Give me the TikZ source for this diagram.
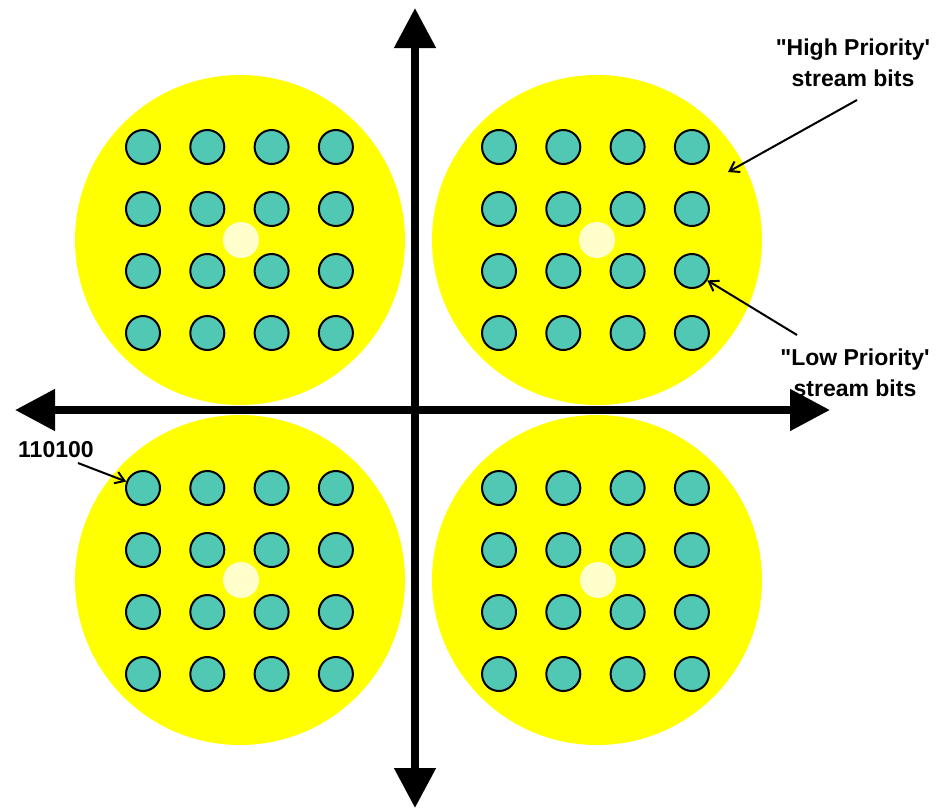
\documentclass[tikz,border=0pt]{standalone}
\usepackage{fontspec}
\setmainfont{Liberation Sans}[Ligatures=TeXOff]
\usetikzlibrary{arrows.meta}
\definecolor{discyellow}{RGB}{255,255,0}
\definecolor{dotteal}{RGB}{80,200,180}
\definecolor{paledot}{RGB}{255,255,204}
\begin{document}
\begin{tikzpicture}[x=1pt, y=-1pt,
                    disc/.style={circle, fill=discyellow, inner sep=0pt, minimum size=330pt},
                    dot/.style={circle, draw=black, line width=2pt, fill=dotteal, inner sep=0pt, minimum size=34pt},
                    centre/.style={circle, fill=paledot, inner sep=0pt, minimum size=36pt},
                    label_style/.style={font=\bfseries\fontsize{23}{31}\selectfont, align=center, inner sep=0pt},
                    axis_style/.style={draw=black, line width=8pt, {Triangle[width=40pt,length=40pt]}-{Triangle[width=40pt,length=40pt]}},
                    pointer/.style={draw=black, line width=2pt, -{Straight Barb[length=9pt,width=12pt]}}]
                    \useasboundingbox (0,0) rectangle (939,811);
                    % four yellow discs
                    \node[disc] (q1) at (597, 240) {};
                    \node[disc] (q2) at (240, 240) {};
                    \node[disc] (q3) at (240, 580) {};
                    \node[disc] (q4) at (597, 580) {};
                    \node[centre] (c1) at (597, 240) {};
                    \node[centre] (c2) at (241, 240) {};
                    \node[centre] (c3) at (241, 580) {};
                    \node[centre] (c4) at (598, 580) {};
                    % 16 points in each disc
                    \foreach \q/\x/\y in {1/499/147, 2/143/147, 3/143/488, 4/499/488}
                      \foreach \i in {0,...,3}
                        \foreach \j in {0,...,3}
                          \node[dot] (p\q-\i\j) at (\x+64.3*\i, \y+62*\j) {};
                    % axes
                    \coordinate (top) at (415, 8);
                    \coordinate (bottom) at (415, 808);
                    \coordinate (left) at (15, 410);
                    \coordinate (right) at (830, 410);
                    \draw[axis_style] (bottom) -- (top);
                    \draw[axis_style] (left) -- (right);
                    % labels
                    \node[label_style] (hp) at (853, 63) {"High Priority'\\stream bits};
                    \node[label_style] (lp) at (855, 373) {"Low Priority'\\stream bits};
                    \node[label_style, anchor=west] (sym) at (18, 450) {110100};
                    \coordinate (hpfrom) at (857, 100);
                    \coordinate (lpfrom) at (797, 335);
                    \coordinate (symfrom) at (78, 463);
                    \draw[pointer] (hpfrom) -- (728, 172) coordinate (hpto);
                    \draw[pointer] (lpfrom) -- (p1-32);
                    \draw[pointer] (symfrom) -- (p3-00);
                \end{tikzpicture}
\end{document}
